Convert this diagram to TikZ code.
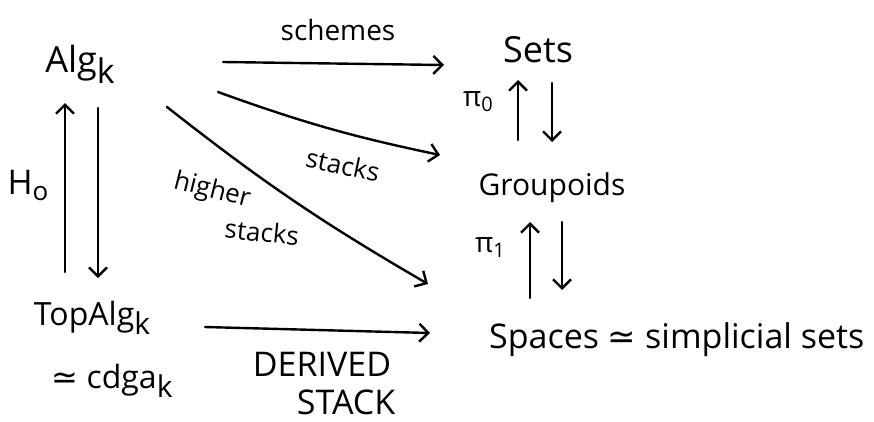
\documentclass[tikz,border=0pt]{standalone}
\usepackage{fontspec}
\setmainfont{Open Sans}
\newfontfamily\symfont{DejaVu Sans}
\usetikzlibrary{arrows.meta}
% lowered index in the current text font
\newcommand\lowidx[3]{\raisebox{-#1}{\fontsize{#2}{#2}\selectfont #3}}
\tikzset{
  obj/.style={inner sep=1pt, font=\fontsize{36}{40}\selectfont},
  lbl/.style={inner sep=1pt, font=\fontsize{28}{32}\selectfont},
  arr/.style={line width=2.4pt, line cap=round, line join=round,
    -{Straight Barb[length=9pt,width=18pt,line width=2.4pt]}},
}
\begin{document}
\begin{tikzpicture}[x=1pt,y=-1pt]
  \useasboundingbox (0,0) rectangle (874,421);

  % objects
  \node[obj] (alg)  at (80,64)   {Alg\lowidx{11pt}{34}{k}};
  \node[obj] (sets) at (538,50)  {Sets};
  \node[obj, font=\fontsize{30}{34}\selectfont] (grp) at (552,188) {Groupoids};
  \node[obj, anchor=west, font=\fontsize{34}{38}\selectfont] (spc) at (488,340) {Spaces {\symfont ≃} simplicial sets};
  \node[obj, font=\fontsize{32}{36}\selectfont] (top) at (92,318) {TopAlg\lowidx{9pt}{30}{k}};
  \node[obj, font=\fontsize{32}{36}\selectfont] (cdga) at (112,381) {{\symfont ≃} cdga\lowidx{9pt}{30}{k}};

  % left adjunction Alg_k / TopAlg_k
  \draw[arr] ([shift={(-15,208)}]alg.center) -- ([shift={(-15,39)}]alg.center);
  \draw[arr] ([shift={(18,44)}]alg.center) -- ([shift={(18,214)}]alg.center);
  \node[lbl, font=\fontsize{34}{38}\selectfont] (h0) at (28,185) {H\lowidx{6pt}{26}{o}};

  % right tower Sets / Groupoids / Spaces
  \draw[arr] ([shift={(-20,90)}]sets.center) -- ([shift={(-20,30)}]sets.center);
  \draw[arr] ([shift={(14,33)}]sets.center) -- ([shift={(14,92)}]sets.center);
  \node[lbl] (pi0) at (478,102) {π\lowidx{5pt}{20}{0}};
  \draw[arr] ([shift={(-22,110)}]grp.center) -- ([shift={(-22,34)}]grp.center);
  \draw[arr] ([shift={(10,34)}]grp.center) -- ([shift={(10,102)}]grp.center);
  \node[lbl] (pi1) at (490,248) {π\lowidx{5pt}{20}{1}};

  % functors out of Alg_k
  \draw[arr] ([shift={(143,-2)}]alg.center) -- ([shift={(-94,15)}]sets.center);
  \node[lbl] (schemes) at (338,30) {schemes};

  \draw[arr] ([shift={(138,28)}]alg.center) to[bend right=4] ([shift={(-112,-33)}]grp.center);
  \node[lbl, rotate=-12, font=\fontsize{26}{30}\selectfont] (stacks) at (343,165) {stacks};

  \draw[arr] ([shift={(87,43)}]alg.center) to[bend right=4] ([shift={(-124,96)}]grp.center);
  \node[lbl, rotate=-14, font=\fontsize{26}{30}\selectfont] (higher) at (212,191) {higher};
  \node[lbl, rotate=-6, font=\fontsize{26}{30}\selectfont] (hstacks) at (262,232) {stacks};

  % derived stacks
  \draw[arr] ([shift={(113,9)}]top.center) -- ([shift={(-58,-7)}]spc.west);
  \node[lbl, font=\fontsize{34}{38}\selectfont] (derived) at (322,364) {DERIVED};
  \node[lbl, font=\fontsize{34}{38}\selectfont] (dstack)  at (346,402) {STACK};
\end{tikzpicture}
\end{document}
